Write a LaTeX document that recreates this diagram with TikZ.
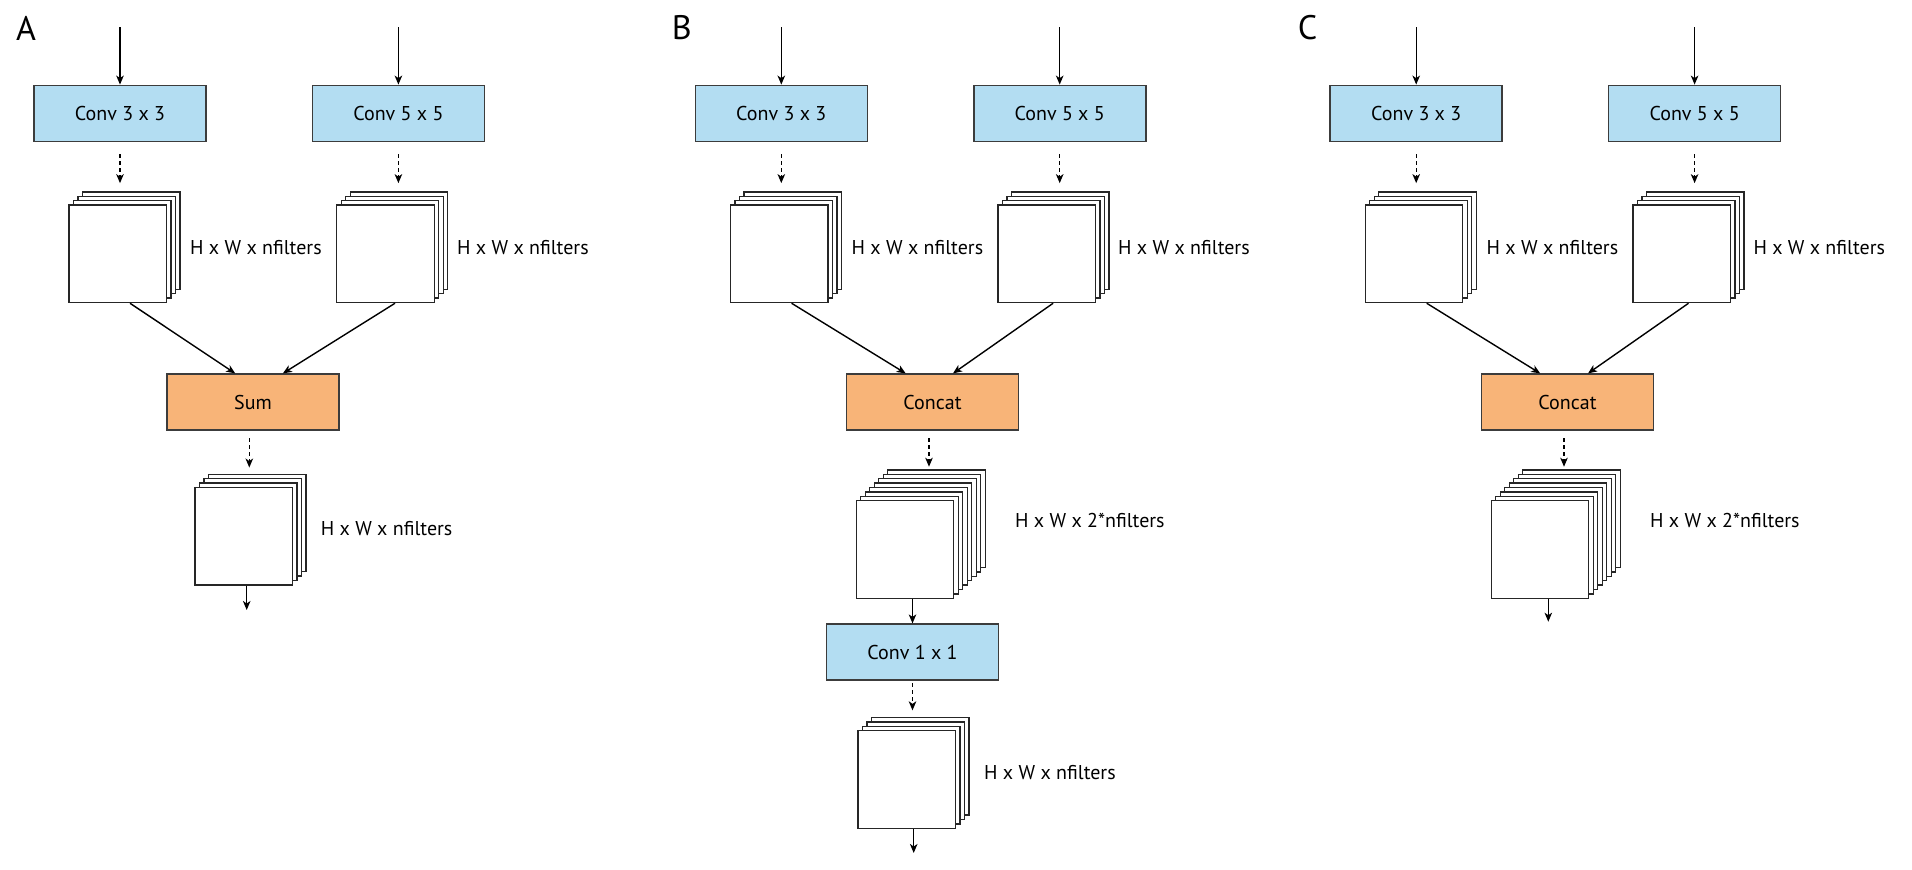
\documentclass[tikz,border=0pt]{standalone}
\usepackage{fontspec}
\setmainfont{PT Sans}
\usetikzlibrary{arrows.meta,calc}
\definecolor{convblue}{RGB}{179,221,242}
\definecolor{mergeorange}{RGB}{248,180,120}
\definecolor{boxline}{RGB}{60,60,60}
\tikzset{
  opbox/.style={draw=boxline, line width=1.6pt, minimum width=172pt, minimum height=56pt, inner sep=0pt, font=\fontsize{20}{24}\selectfont},
  convbox/.style={opbox, fill=convblue},
  mergebox/.style={opbox, fill=mergeorange},
  fmap/.style={draw=black!85, line width=1.4pt, fill=white, minimum width=97.5pt, minimum height=97.5pt, inner sep=0pt},
  dimlabel/.style={anchor=west, inner sep=0pt, font=\fontsize{20}{24}\selectfont},
  panellabel/.style={anchor=west, inner sep=0pt, font=\fontsize{34}{40}\selectfont},
  arr/.style={line width=1.4pt, -{Stealth[length=9pt,width=7.5pt,inset=2.5pt]}},
  darr/.style={arr, dash pattern=on 4pt off 3pt},
}
\newcommand\fmstack[4]{%
  \foreach \i in {#4,...,1}{\node[fmap, xshift=\i*4.5pt, yshift=\i*4.4pt] (#1b\i) at (#2,#3) {};}
  \node[fmap] (#1) at (#2,#3) {};
}
\begin{document}
\begin{tikzpicture}[x=1pt,y=-1pt]
\fill[white] (0,0) rectangle (1912,870);
\useasboundingbox (0,0) rectangle (1912,870);

% ---------------- Panel A ----------------
\node[panellabel] (la) at (16,28) {A};
\node[convbox] (a3) at (120,113.4) {Conv 3 x 3};
\node[convbox] (a5) at (398.4,113.4) {Conv 5 x 5};
\coordinate (a3in) at (120,27);
\coordinate (a5in) at (398.4,27);
\draw[arr] (a3in) -- (a3.north);
\draw[arr] (a5in) -- (a5.north);
\fmstack{as3}{117.8}{253.8}{3}
\fmstack{as5}{385.5}{253.8}{3}
\node[dimlabel] (al3) at (190,248) {H x W x nfilters};
\node[dimlabel] (al5) at (457,248) {H x W x nfilters};
\draw[darr, shorten <=12pt, shorten >=8pt] (a3.south) -- (a3.south |- as3b3.north);
\draw[darr, shorten <=12pt, shorten >=8pt] (a5.south) -- (a5.south |- as5b3.north);
\node[mergebox] (asum) at (253,402.2) {Sum};
\draw[arr] ([xshift=12.2pt]as3.south) -- ([xshift=69pt]asum.north west);
\draw[arr] ([xshift=9.5pt]as5.south) -- ([xshift=116.7pt]asum.north west);
\fmstack{aout}{243.8}{536.2}{3}
\node[dimlabel] (alo) at (320.7,529) {H x W x nfilters};
\draw[darr, shorten <=7pt, shorten >=6pt] ([xshift=-3.7pt]asum.south) -- ([xshift=-3.7pt]asum.south |- aoutb3.north);
\coordinate (aend) at (246.7,610);
\draw[arr] (aout.south -| aend) -- (aend);

% ---------------- Panel B ----------------
\node[panellabel] (lb) at (671.7,28) {B};
\node[convbox] (b3) at (781.3,113.4) {Conv 3 x 3};
\node[convbox] (b5) at (1059.7,113.4) {Conv 5 x 5};
\coordinate (b3in) at (781.3,27);
\coordinate (b5in) at (1059.7,27);
\draw[arr] (b3in) -- (b3.north);
\draw[arr] (b5in) -- (b5.north);
\fmstack{bs3}{779.1}{253.8}{3}
\fmstack{bs5}{1046.8}{253.8}{3}
\node[dimlabel] (bl3) at (851.5,248) {H x W x nfilters};
\node[dimlabel] (bl5) at (1118,248) {H x W x nfilters};
\draw[darr, shorten <=12pt, shorten >=8pt] (b3.south) -- (b3.south |- bs3b3.north);
\draw[darr, shorten <=12pt, shorten >=8pt] (b5.south) -- (b5.south |- bs5b3.north);
\node[mergebox] (bcat) at (932.5,402.2) {Concat};
\draw[arr] ([xshift=12.5pt]bs3.south) -- ([xshift=60pt]bcat.north west);
\draw[arr] ([xshift=6.3pt]bs5.south) -- ([xshift=107.3pt]bcat.north west);
\fmstack{bcs}{905}{549.5}{7}
\node[dimlabel] (blc) at (1015,520) {H x W x 2*nfilters};
\draw[darr, shorten <=7pt, shorten >=2.5pt] ([xshift=-3.5pt]bcat.south) -- ([xshift=-3.5pt]bcat.south |- bcsb7.north);
\node[convbox] (b1) at (912.5,652.2) {Conv 1 x 1};
\draw[arr] (bcs.south -| b1.north) -- (b1.north);
\fmstack{bout}{906.7}{779.5}{3}
\node[dimlabel] (blo) at (984,772.7) {H x W x nfilters};
\draw[darr, shorten <=2pt, shorten >=6.5pt] (b1.south) -- (b1.south |- boutb3.north);
\coordinate (bend) at (913.7,853);
\draw[arr] (bout.south -| bend) -- (bend);

% ---------------- Panel C ----------------
\node[panellabel] (lc) at (1297.7,28) {C};
\node[convbox] (c3) at (1416.2,113.4) {Conv 3 x 3};
\node[convbox] (c5) at (1694.6,113.4) {Conv 5 x 5};
\coordinate (c3in) at (1416.2,27);
\coordinate (c5in) at (1694.6,27);
\draw[arr] (c3in) -- (c3.north);
\draw[arr] (c5in) -- (c5.north);
\fmstack{cs3}{1414}{253.8}{3}
\fmstack{cs5}{1681.7}{253.8}{3}
\node[dimlabel] (cl3) at (1486.5,248) {H x W x nfilters};
\node[dimlabel] (cl5) at (1753.3,248) {H x W x nfilters};
\draw[darr, shorten <=12pt, shorten >=8pt] (c3.south) -- (c3.south |- cs3b3.north);
\draw[darr, shorten <=12pt, shorten >=8pt] (c5.south) -- (c5.south |- cs5b3.north);
\node[mergebox] (ccat) at (1567.5,402.2) {Concat};
\draw[arr] ([xshift=12.7pt]cs3.south) -- ([xshift=59.5pt]ccat.north west);
\draw[arr] ([xshift=6.8pt]cs5.south) -- ([xshift=107.3pt]ccat.north west);
\fmstack{ccs}{1540}{549.5}{7}
\node[dimlabel] (clc) at (1650,520.5) {H x W x 2*nfilters};
\draw[darr, shorten <=7pt, shorten >=2.5pt] ([xshift=-3.5pt]ccat.south) -- ([xshift=-3.5pt]ccat.south |- ccsb7.north);
\coordinate (cend) at (1548.3,621.7);
\draw[arr] (ccs.south -| cend) -- (cend);
\end{tikzpicture}
\end{document}
